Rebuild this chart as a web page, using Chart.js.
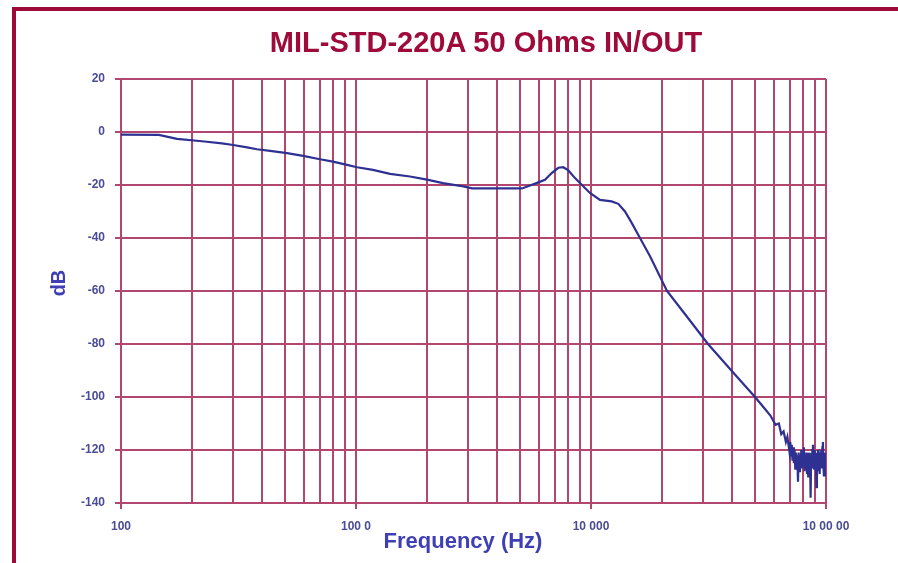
<!DOCTYPE html>
<html>
<head>
<meta charset="utf-8">
<title>MIL-STD-220A 50 Ohms IN/OUT</title>
<script src="https://cdn.jsdelivr.net/npm/chart.js@4/dist/chart.umd.min.js"></script>
<style>
    body { margin: 0; background: #fff; }
    #wrap { position: relative; width: 898px; height: 563px; overflow: hidden; font-family: "Liberation Sans", Arial, sans-serif; }
    #frame { position: absolute; left: 12px; top: 7px; right: -10px; bottom: -10px; border-top: 4px solid #9e0a3a; border-left: 4px solid #9e0a3a; }
    #chart-title { position: absolute; left: 186px; width: 600px; top: 25px; line-height: 34px; text-align: center; font-size: 29px; font-weight: bold; color: #9e0a3a; margin: 0; }
    #x-title { position: absolute; left: 313px; width: 300px; top: 528px; line-height: 26px; text-align: center; font-size: 22px; font-weight: bold; color: #3f3fb5; }
    #y-title { position: absolute; left: 8px; width: 100px; top: 271px; line-height: 24px; text-align: center; font-size: 20px; font-weight: bold; color: #3f3fb5; transform: rotate(-90deg); }
    canvas { position: absolute; left: 0; top: 0; }
</style>
</head>
<body>
<div id="wrap">
    <canvas id="freqChart" width="898" height="563"></canvas>
    <div id="frame"></div>
    <h1 id="chart-title">MIL-STD-220A 50 Ohms IN/OUT</h1>
    <div id="y-title">dB</div>
    <div id="x-title">Frequency (Hz)</div>
</div>
<script>
const freqHz = [
    100, 145, 173, 221, 269, 300, 344, 379, 431, 509, 595, 703, 798, 916,
    1010, 1180, 1396, 1698, 2005, 2344, 2771, 3117, 5087, 5500, 5970, 6370,
    6805, 7260, 7620, 8010, 8550, 9130, 9900, 10920, 12240, 13070, 13950,
    14900, 16160, 17830, 21060, 25000, 31470, 40000, 49880, 55000, 58000,
    61000, 63000, 64500, 66000, 67500, 68500, 69500,
    70000, 70500, 71000, 71500, 72000, 72500, 73000, 73500, 74000, 74500,
    75000, 75500, 76000, 76500, 77000, 77500, 78000, 78500, 79000, 79500,
    80000, 80500, 81000, 81500, 82000, 82500, 83000, 83500, 84000, 84500,
    85000, 85500, 86000, 86500, 87000, 87500, 88000, 88500, 89000, 89500,
    90000, 90500, 91000, 91500, 92000, 92500, 93000, 93500, 94000, 94500,
    95000, 95500, 96000, 96500, 97000, 97500, 98000, 98500, 99000, 99500,
    100000
];
const gainDb = [
    -1.0, -1.1, -2.6, -3.5, -4.3, -4.9, -5.8, -6.5, -7.1, -8.0, -9.0, -10.3, -11.2, -12.4,
    -13.3, -14.3, -15.8, -16.8, -18.0, -19.3, -20.3, -21.3, -21.3, -20.2, -19.0, -18.0,
    -15.5, -13.5, -13.3, -14.5, -17.4, -19.9, -23.0, -25.6, -26.2, -27.1, -30.0,
    -34.3, -40.0, -46.9, -60.0, -68.5, -80.0, -90.5, -100.0, -104.5, -107.0,
    -110.5, -110.0, -114.0, -113.0, -117.0, -115.0, -119.0,
    -121, -117, -122, -118, -124, -119, -125, -120, -127, -121,
    -126, -122, -132, -121, -128, -122, -126, -120, -127, -123,
    -125, -119, -128, -122, -127, -121, -129, -123, -130, -121,
    -126, -122, -138, -121, -127, -120, -118, -124, -127, -120,
    -126, -122, -134, -121, -128, -120, -126, -122, -129, -121,
    -125, -120, -127, -119, -117, -126, -130, -121, -126, -130,
    -124
];

// Axis ticks
const decades = [100, 1000, 10000, 100000];
const decadeLabels = ['100', '100 0', '10 000', '10 00 00'];
const minorSteps = [2, 3, 4, 5, 6, 7, 8, 9];
const yTicks = [20, 0, -20, -40, -60, -80, -100, -120, -140];

const gridColor = '#b3466f';
const tickFont = { family: '"Liberation Sans", Arial, sans-serif', size: 12, weight: 'bold' };

const points = freqHz.map((f, i) => ({ x: f, y: gainDb[i] }));

const ctx = document.getElementById('freqChart').getContext('2d');
const freqChart = new Chart(ctx, {
    type: 'line',
    data: {
        datasets: [{
            data: points,
            borderColor: '#2e3192',
            borderWidth: 2.2,
            pointRadius: 0,
            tension: 0,
            fill: false
        }]
    },
    options: {
        responsive: false,
        animation: false,
        layout: { padding: { top: 79, right: 72, left: 0, bottom: 0 } },
        plugins: {
            legend: { display: false },
            tooltip: { enabled: false }
        },
        scales: {
            x: {
                type: 'logarithmic',
                min: 100,
                max: 100000,
                afterBuildTicks: (scale) => {
                    const ticks = [];
                    decades.forEach((d, i) => {
                        ticks.push({ value: d });
                        if (i < decades.length - 1) {
                            minorSteps.forEach(m => ticks.push({ value: d * m }));
                        }
                    });
                    scale.ticks = ticks;
                },
                afterFit: (scale) => { scale.height = 60; },
                grid: {
                    color: gridColor,
                    lineWidth: 2,
                    tickLength: 6,
                    tickColor: (c) => decades.includes(c.tick && c.tick.value) ? gridColor : 'rgba(0,0,0,0)'
                },
                border: { color: gridColor, width: 2 },
                ticks: {
                    autoSkip: false,
                    maxRotation: 0,
                    padding: 10,
                    color: '#4b4b96',
                    font: tickFont,
                    callback: (value) => {
                        const i = decades.indexOf(value);
                        return i >= 0 ? decadeLabels[i] : '';
                    }
                }
            },
            y: {
                min: -140,
                max: 20,
                afterBuildTicks: (scale) => {
                    scale.ticks = yTicks.map(v => ({ value: v }));
                },
                afterFit: (scale) => { scale.width = 121; },
                grid: {
                    color: gridColor,
                    lineWidth: 2,
                    tickLength: 6
                },
                border: { color: gridColor, width: 2 },
                ticks: {
                    padding: 10,
                    color: '#4b4b96',
                    font: tickFont
                }
            }
        }
    }
});
</script>
</body>
</html>
